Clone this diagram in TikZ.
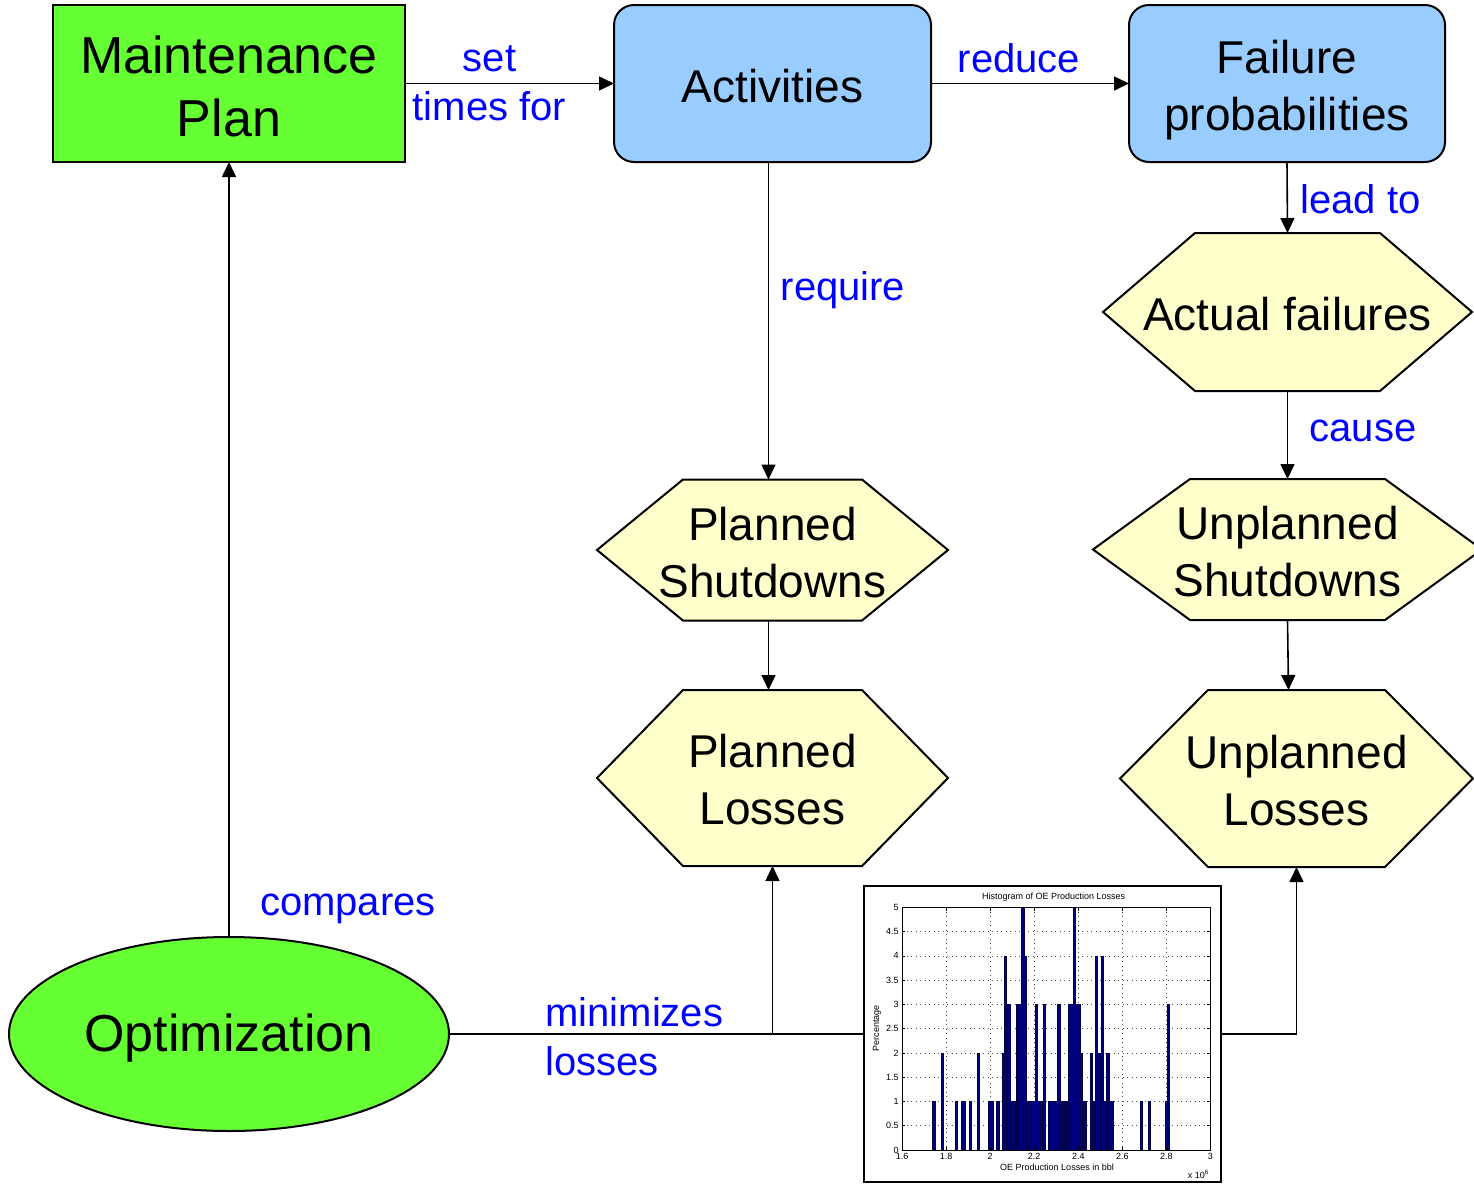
\documentclass[tikz,border=0pt]{standalone}
\usepackage{fontspec}
\setmainfont{Liberation Sans}
\usetikzlibrary{arrows.meta,shapes.geometric,backgrounds,calc}
\definecolor{boxgreen}{HTML}{66FF33}
\definecolor{boxblue}{HTML}{99CCFF}
\definecolor{hexyellow}{HTML}{FFFFCC}
\definecolor{lblblue}{HTML}{0000FF}
\definecolor{barnavy}{HTML}{000080}
\newcommand{\drawhex}[2]{%
  \begin{scope}[on background layer]
    \filldraw[hexshape] (#1.west) -- ([xshift=#2]#1.north west) -- ([xshift=-#2]#1.north east)
      -- (#1.east) -- ([xshift=-#2]#1.south east) -- ([xshift=#2]#1.south west) -- cycle;
  \end{scope}}
\tikzset{
  bigtext/.style={font=\fontsize{26}{31.5}\selectfont, align=center, inner sep=0pt},
  midtext/.style={font=\fontsize{23}{28.5}\selectfont, align=center, inner sep=0pt},
  lbl/.style={text=lblblue, font=\fontsize{20}{24.5}\selectfont, inner sep=0pt},
  greenbox/.style={draw=black, line width=1pt, fill=boxgreen, inner sep=0pt, outer sep=0pt},
  bluebox/.style={draw=black, line width=1pt, fill=boxblue, rounded corners=10pt, inner sep=0pt, outer sep=0pt},
  hexnode/.style={inner sep=0pt, outer sep=0pt},
  hexshape/.style={draw=black, line width=1pt, fill=hexyellow, line join=miter},
  arr/.style={draw=black, line width=0.8pt, -{Triangle[length=7.5pt,width=7pt]}},
  conn/.style={draw=black, line width=0.9pt},
  hist/.style={font=\fontsize{4.5}{5}\selectfont, inner sep=0.5pt},
}
\begin{document}
\begin{tikzpicture}[x=0.5pt, y=-0.5pt]
\useasboundingbox (0,0) rectangle (1474,1184);
% shapes
\node[greenbox, minimum width=176pt, minimum height=78.5pt] (mp) at (229,83.5) {};
\node[bluebox, minimum width=158.5pt, minimum height=78.5pt] (act) at (772.5,83.5) {};
\node[bluebox, minimum width=158pt, minimum height=78.5pt] (fp) at (1287,83.5) {};
\node[hexnode, minimum width=184.5pt, minimum height=79pt] (af) at (1287.5,312) {};
\drawhex{af}{46pt}
\node[hexnode, minimum width=175.5pt, minimum height=70.5pt] (ps) at (772.5,550) {};
\drawhex{ps}{43pt}
\node[hexnode, minimum width=194.5pt, minimum height=70.5pt] (us) at (1287.5,549.5) {};
\drawhex{us}{48.5pt}
\node[hexnode, minimum width=175.5pt, minimum height=88pt] (pl) at (772.5,778) {};
\drawhex{pl}{43pt}
\node[hexnode, minimum width=176.5pt, minimum height=88.5pt] (ul) at (1296.5,778.5) {};
\drawhex{ul}{44pt}
\node[ellipse, draw=black, line width=1pt, fill=boxgreen, minimum width=220pt, minimum height=97pt, inner sep=0pt, outer sep=0pt] (opt) at (229,1034) {};
\node[draw=black, line width=1pt, fill=white, minimum width=178.5pt, minimum height=148pt, inner sep=0pt, outer sep=0pt] (hist) at (1042.5,1034) {};
% node texts
\node[bigtext] (mpt) at ([yshift=-1.5pt]mp.center) {Maintenance\\Plan};
\node[midtext] (actt) at ([yshift=-1.5pt]act.center) {Activities};
\node[midtext] (fpt) at ([yshift=-3.5pt]fp.center) {Failure\\probabilities};
\node[midtext] (aft) at ([yshift=-1pt]af.center) {Actual failures};
\node[midtext] (pst) at ([yshift=-1.25pt]ps.center) {Planned\\Shutdowns};
\node[midtext] (ust) at ([yshift=-1.25pt]us.center) {Unplanned\\Shutdowns};
\node[midtext] (plt) at ([yshift=-1pt]pl.center) {Planned\\Losses};
\node[midtext] (ult) at ([yshift=-1pt]ul.center) {Unplanned\\Losses};
\node[bigtext] (optt) at ([yshift=-2pt]opt.center) {Optimization};
% histogram content
\begin{scope}[shift={(862,880)}, scale=1/3]
  \foreach \gx in {252,384,516,649,781,913}
    \draw[line width=0.25pt, dotted, black!70] (\gx,82) -- (\gx,810);
  \foreach \k in {1,...,9}
    \draw[line width=0.25pt, dotted, black!70] (120,810-\k*72.8) -- (1045,810-\k*72.8);
  \foreach \bx/\bh in {215/1,240/2,283/1,300/1,307/1,325/1,348/2,383/1,390/1,407/1,423/2,430/4,440/3,447/1,455/1,467/3,473/3,482/5,488/4,497/1,503/1,510/1,517/1,523/3,530/1,537/1,547/3,563/1,570/1,577/1,583/1,590/3,597/1,603/1,610/1,617/1,623/3,630/3,637/5,643/3,650/3,657/2,663/1,670/1,687/2,693/1,703/4,710/2,720/4,727/1,737/2,743/1,750/1,837/1,862/1,912/1,918/3}
    \filldraw[fill=barnavy, draw=barnavy!60!black, line width=0.15pt] (\bx-3.3,810) rectangle (\bx+3.3,810-\bh*145.6);
  \draw[line width=0.35pt] (120,82) rectangle (1045,810);
  \foreach \gx/\t in {120/1.6,252/1.8,384/2,516/2.2,649/2.4,781/2.6,913/2.8,1045/3} {
    \draw[line width=0.3pt] (\gx,810) -- (\gx,800) (\gx,82) -- (\gx,92);
    \node[hist, anchor=north] at (\gx,815) {\t};
  }
  \foreach \k/\t in {0/0,1/0.5,2/1,3/1.5,4/2,5/2.5,6/3,7/3.5,8/4,9/4.5,10/5} {
    \draw[line width=0.3pt] (120,810-\k*72.8) -- (130,810-\k*72.8) (1045,810-\k*72.8) -- (1035,810-\k*72.8);
    \node[hist, anchor=east] at (114,810-\k*72.8) {\t};
  }
  \node[hist] at (575,50) {Histogram of OE Production Losses};
  \node[hist] at (585,862) {OE Production Losses in bbl};
  \node[hist] at (1010,882) {x 10\textsuperscript{6}};
  \node[hist, rotate=90] at (45,445) {Percentage};
\end{scope}
% connectors
\draw[arr] (mp.east) -- (act.west);
\draw[arr] (act.east) -- (fp.west);
\draw[arr] (fp.south) -- (af.north);
\draw[arr] ([xshift=-2pt]act.south) -- ([xshift=-2pt]ps.north);
\draw[arr] (af.south) -- (us.north);
\draw[arr] ([xshift=-2pt]ps.south) -- ([xshift=-2pt]pl.north);
\draw[arr] (us.south) -- ([xshift=-4pt]ul.north);
\draw[arr] (opt.north) -- (mp.south);
\coordinate (br) at (772.5,1034);
\draw[conn] (opt.east) -- (hist.west);
\draw[arr] (br) -- (pl.south);
\draw[arr] (hist.east) -| (ul.south);
% labels
\node[lbl, align=center] (l1) at (489.5,83) {set\\times for};
\node[lbl] (l2) at (1019,58) {reduce};
\node[lbl, anchor=west] (l3) at (1300,199) {lead to};
\node[lbl] (l4) at (843,290) {require};
\node[lbl] (l5) at (1363,431) {cause};
\node[lbl] (l6) at (348,909) {compares};
\node[lbl, align=left, anchor=west] (l7) at (545,1037) {minimizes\\losses};
\end{tikzpicture}
\end{document}
